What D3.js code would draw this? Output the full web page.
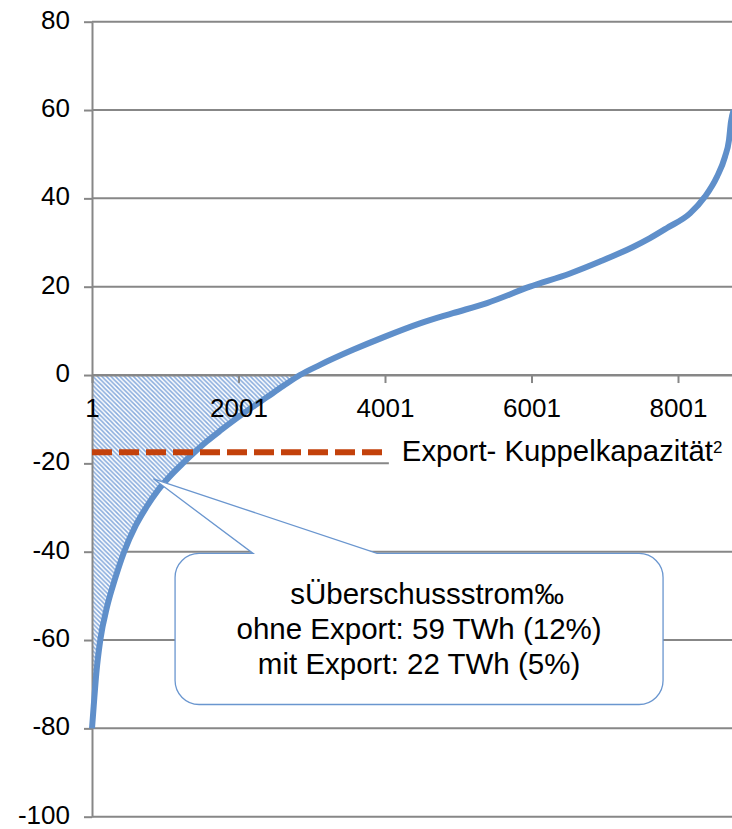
<!DOCTYPE html>
<html>
<head>
<meta charset="utf-8">
<script src="https://cdn.jsdelivr.net/npm/d3@7"></script>
<style>
  body { margin: 0; background: #fff; }
  svg { display: block; }
  text { font-family: "Liberation Sans", Arial, sans-serif; fill: #000; }
</style>
</head>
<body>
<svg id="chart" width="732" height="829"></svg>
<script>
// Sorted hourly residual load (GW), hour index 1..8760
const hours = [1, 24, 60, 114, 206, 311, 440, 600, 740, 905, 1060, 1240, 1400, 1570, 1760,
  1960, 2170, 2390, 2610, 2840, 3114, 3564, 4001, 4479, 4929, 5393, 5980, 6527, 6936,
  7387, 7619, 7851, 8165, 8370, 8533, 8642, 8697, 8724, 8760];
const residualLoad = [-80, -75, -67.5, -60, -52.5, -46.4, -40, -34, -30, -26, -23, -20, -17.5, -15, -12.5,
  -10, -7.5, -5, -2.5, 0, 2.3, 5.7, 8.7, 11.7, 14.0, 16.3, 20.0, 23.0, 25.7,
  29.0, 31.0, 33.3, 36.6, 40.4, 44.9, 49.4, 53.2, 57.3, 60];

const yTickValues = [80, 60, 40, 20, 0, -20, -40, -60, -80, -100];
const xTickHours = [1, 2001, 4001, 6001, 8001];

// Export interconnector capacity (GW) and the hour span its marker covers
const exportCapacity = -17.5;
const exportSpan = [1, 4040];
const exportLabel = "Export- Kuppelkapazität";
const exportLabelSup = "2";

const calloutTitle = "sÜberschussstrom‰";
const calloutLines = ["ohne Export: 59 TWh (12%)", "mit Export: 22 TWh (5%)"];
// Callout placement in data space: box corners, wedge base, wedge tip
const calloutBox = { h0: 1135, h1: 7797, v0: -40.4, v1: -74.6 };
const calloutWedgeBase = [2200, 3893];
const calloutTip = { h: 840, v: -23.5 };

const data = hours.map((h, i) => ({ h, v: residualLoad[i] }));

const svg = d3.select("#chart");
const x = d3.scaleLinear().domain([1, 8760]).range([92, 733.6]);
const y = d3.scaleLinear().domain([-100, 80]).range([816.7, 21.7]);

const gridColor = "#878787";
const lineColor = "#5f8fca";

// hatch pattern for the surplus area
const defs = svg.append("defs");
const pat = defs.append("pattern")
  .attr("id", "hatch").attr("patternUnits", "userSpaceOnUse")
  .attr("width", 4.5).attr("height", 4.5);
pat.append("rect").attr("width", 4.5).attr("height", 4.5).attr("fill", "#fff");
pat.append("path")
  .attr("d", "M-1,-1 L5.5,5.5 M-1,3.5 L1,5.5 M3.5,-1 L5.5,1")
  .attr("stroke", "#86aadc").attr("stroke-width", 1.5);

// horizontal gridlines
svg.append("g").selectAll("line").data(yTickValues).join("line")
  .attr("x1", x(1)).attr("x2", x(8760))
  .attr("y1", d => y(d)).attr("y2", d => y(d))
  .attr("stroke", gridColor).attr("stroke-width", 2);

// surplus area below zero
const area = d3.area()
  .x(d => x(d.h))
  .y0(y(0))
  .y1(d => y(Math.min(0, d.v)))
  .curve(d3.curveMonotoneX);
svg.append("path").datum(data.filter(d => d.v <= 0.0001))
  .attr("d", area).attr("fill", "url(#hatch)");

// axes lines and ticks
function styleAxis(g) {
  g.selectAll(".domain").attr("stroke", gridColor).attr("stroke-width", 2);
  g.selectAll(".tick line").attr("stroke", gridColor).attr("stroke-width", 2);
  g.selectAll("text").attr("font-size", 26).attr("fill", "#000")
    .attr("font-family", '"Liberation Sans", Arial, sans-serif');
}

const xAxis = d3.axisBottom(x).tickValues(xTickHours).tickFormat(d3.format("d"))
  .tickSize(8).tickSizeOuter(0).tickPadding(16);
const xAxisLines = svg.append("g").attr("transform", `translate(0,${y(0)})`).call(xAxis).call(styleAxis);
xAxisLines.selectAll("text").remove();

const yAxis = d3.axisLeft(y).tickValues(yTickValues).tickFormat(d => String(d))
  .tickSize(8).tickSizeOuter(0).tickPadding(14);
svg.append("g").attr("transform", `translate(${x(1)},0)`).call(yAxis).call(styleAxis)
  .selectAll(".tick text").attr("dy", "0.25em");

// residual load duration curve
const line = d3.line().x(d => x(d.h)).y(d => y(d.v)).curve(d3.curveMonotoneX);
svg.append("path").datum(data)
  .attr("d", line).attr("fill", "none")
  .attr("stroke", lineColor).attr("stroke-width", 6)
  .attr("stroke-linejoin", "round");

// x tick labels above the curve
const xLabels = svg.append("g").attr("transform", `translate(0,${y(0)})`).call(xAxis).call(styleAxis);
xLabels.select(".domain").remove();
xLabels.selectAll(".tick line").remove();

// export capacity marker
svg.append("line")
  .attr("x1", x(exportSpan[0])).attr("x2", x(exportSpan[1]))
  .attr("y1", y(exportCapacity)).attr("y2", y(exportCapacity))
  .attr("stroke", "#c3410b").attr("stroke-width", 6)
  .attr("stroke-dasharray", "20 7");

// label box (white background hides the gridline behind it)
const lblX = x(exportSpan[1]) + 1;
svg.append("rect")
  .attr("x", lblX).attr("y", y(exportCapacity) - 14)
  .attr("width", 732 - lblX).attr("height", 30).attr("fill", "#fff");
const lbl = svg.append("text")
  .attr("x", lblX + 13).attr("y", y(exportCapacity) + 8.5)
  .attr("font-size", 29.3);
lbl.append("tspan").text(exportLabel);
lbl.append("tspan").text(exportLabelSup).attr("font-size", 17).attr("dy", -8);

// callout
const L = x(calloutBox.h0), R = x(calloutBox.h1), T = y(calloutBox.v0), B = y(calloutBox.v1);
const r = 24;
const wb0 = x(calloutWedgeBase[0]), wb1 = x(calloutWedgeBase[1]);
const tx = x(calloutTip.h), ty = y(calloutTip.v);
const p = d3.path();
p.moveTo(L + r, T);
p.lineTo(wb0, T);
p.lineTo(tx, ty);
p.lineTo(wb1, T);
p.lineTo(R - r, T);
p.arcTo(R, T, R, T + r, r);
p.lineTo(R, B - r);
p.arcTo(R, B, R - r, B, r);
p.lineTo(L + r, B);
p.arcTo(L, B, L, B - r, r);
p.lineTo(L, T + r);
p.arcTo(L, T, L + r, T, r);
p.closePath();
svg.append("path").attr("d", p.toString())
  .attr("fill", "#fff").attr("stroke", "#6a96cf").attr("stroke-width", 1.3);

const cx = (L + R) / 2;
svg.append("text")
  .attr("x", cx + 8).attr("y", T + 51)
  .attr("text-anchor", "middle").attr("font-size", 29.5)
  .text(calloutTitle);
svg.append("g").selectAll("text").data(calloutLines).join("text")
  .attr("x", cx).attr("y", (d, i) => T + 86 + i * 35)
  .attr("text-anchor", "middle").attr("font-size", 29.5)
  .text(d => d);
</script>
</body>
</html>
